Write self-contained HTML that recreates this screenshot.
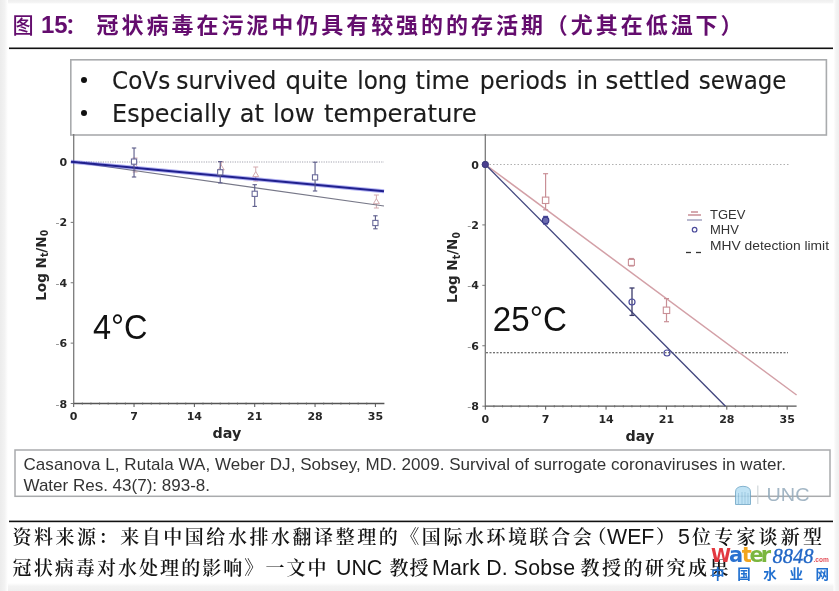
<!DOCTYPE html>
<html><head><meta charset="utf-8">
<style>
html,body{margin:0;padding:0;background:#f1f1f1;}
body{width:839px;height:591px;overflow:hidden;position:relative;}
svg{position:absolute;left:0;top:0;display:block;}
.cjk{font-family:"Noto Serif CJK SC","Noto Sans CJK SC",serif;}
.lat{font-family:"Liberation Sans",Arial,sans-serif;}
.tk{font-family:"DejaVu Sans","Liberation Sans",sans-serif;font-weight:bold;font-size:11px;fill:#262626;}
</style></head>
<body>
<svg width="839" height="591" viewBox="0 0 839 591">
<!-- page -->
<defs>
<linearGradient id="gl" x1="0" y1="0" x2="1" y2="0"><stop offset="0" stop-color="#ececec"/><stop offset="0.55" stop-color="#f2f2f2"/><stop offset="1" stop-color="#ffffff"/></linearGradient>
<linearGradient id="gr" x1="0" y1="0" x2="1" y2="0"><stop offset="0" stop-color="#ffffff"/><stop offset="0.45" stop-color="#f4f4f4"/><stop offset="1" stop-color="#efefef"/></linearGradient>
<linearGradient id="gt" x1="0" y1="0" x2="0" y2="1"><stop offset="0" stop-color="#efefef"/><stop offset="0.6" stop-color="#f4f4f4"/><stop offset="1" stop-color="#ffffff"/></linearGradient>
<linearGradient id="gb" x1="0" y1="0" x2="0" y2="1"><stop offset="0" stop-color="#ffffff"/><stop offset="0.4" stop-color="#f3f3f3"/><stop offset="1" stop-color="#efefef"/></linearGradient>
</defs>
<rect x="0" y="0" width="839" height="591" fill="#ffffff"/>
<rect x="0" y="0" width="839" height="4" fill="url(#gt)"/>
<rect x="0" y="583" width="839" height="8" fill="url(#gb)"/>
<rect x="0" y="0" width="8" height="591" fill="url(#gl)"/>
<rect x="833.5" y="0" width="5.5" height="591" fill="url(#gr)"/>

<!-- title -->
<g fill="#640d6e">
<text font-family="Noto Sans CJK SC" x="12.5" y="33" font-size="21.2" font-weight="500">图</text>
<text class="lat" x="41" y="32.5" font-size="24" font-weight="700">15</text>
<text font-family="Noto Sans CJK SC" x="65" y="33" font-size="21.2" font-weight="700">：</text>
<text x="96.6" y="33.3" font-family="Noto Sans CJK SC" font-size="22" font-weight="700" textLength="646" lengthAdjust="spacing">冠状病毒在污泥中仍具有较强的的存活期（尤其在低温下）</text>
</g>
<rect x="9" y="47.5" width="824" height="1.6" fill="#111"/>

<!-- bullet box -->
<rect x="70.8" y="59.8" width="755.6" height="75.2" fill="#fff" stroke="#a9abad" stroke-width="1.6"/>
<circle cx="84" cy="80" r="3" fill="#111"/>
<circle cx="84" cy="113" r="3" fill="#111"/>
<text x="112" y="89.3" font-family="DejaVu Sans, Liberation Sans, sans-serif" font-size="25.5" fill="#1c1c1c" stroke="#1c1c1c" stroke-width="0.15" textLength="58.2" lengthAdjust="spacingAndGlyphs">CoVs</text>
<text x="176.3" y="89.3" font-family="DejaVu Sans, Liberation Sans, sans-serif" font-size="25.5" fill="#1c1c1c" stroke="#1c1c1c" stroke-width="0.15" textLength="100.1" lengthAdjust="spacingAndGlyphs">survived</text>
<text x="285.5" y="89.3" font-family="DejaVu Sans, Liberation Sans, sans-serif" font-size="25.5" fill="#1c1c1c" stroke="#1c1c1c" stroke-width="0.15" textLength="62.5" lengthAdjust="spacingAndGlyphs">quite</text>
<text x="357.3" y="89.3" font-family="DejaVu Sans, Liberation Sans, sans-serif" font-size="25.5" fill="#1c1c1c" stroke="#1c1c1c" stroke-width="0.15" textLength="49.9" lengthAdjust="spacingAndGlyphs">long</text>
<text x="415.5" y="89.3" font-family="DejaVu Sans, Liberation Sans, sans-serif" font-size="25.5" fill="#1c1c1c" stroke="#1c1c1c" stroke-width="0.15" textLength="54.1" lengthAdjust="spacingAndGlyphs">time</text>
<text x="479.8" y="89.3" font-family="DejaVu Sans, Liberation Sans, sans-serif" font-size="25.5" fill="#1c1c1c" stroke="#1c1c1c" stroke-width="0.15" textLength="87.3" lengthAdjust="spacingAndGlyphs">periods</text>
<text x="576.4" y="89.3" font-family="DejaVu Sans, Liberation Sans, sans-serif" font-size="25.5" fill="#1c1c1c" stroke="#1c1c1c" stroke-width="0.15" textLength="21.6" lengthAdjust="spacingAndGlyphs">in</text>
<text x="605.6" y="89.3" font-family="DejaVu Sans, Liberation Sans, sans-serif" font-size="25.5" fill="#1c1c1c" stroke="#1c1c1c" stroke-width="0.15" textLength="84.8" lengthAdjust="spacingAndGlyphs">settled</text>
<text x="698.8" y="89.3" font-family="DejaVu Sans, Liberation Sans, sans-serif" font-size="25.5" fill="#1c1c1c" stroke="#1c1c1c" stroke-width="0.15" textLength="87.6" lengthAdjust="spacingAndGlyphs">sewage</text>
<text x="112.1" y="122.0" font-family="DejaVu Sans, Liberation Sans, sans-serif" font-size="25.5" fill="#1c1c1c" stroke="#1c1c1c" stroke-width="0.15" textLength="119.3" lengthAdjust="spacingAndGlyphs">Especially</text>
<text x="239.7" y="122.0" font-family="DejaVu Sans, Liberation Sans, sans-serif" font-size="25.5" fill="#1c1c1c" stroke="#1c1c1c" stroke-width="0.15" textLength="24.1" lengthAdjust="spacingAndGlyphs">at</text>
<text x="273" y="122.0" font-family="DejaVu Sans, Liberation Sans, sans-serif" font-size="25.5" fill="#1c1c1c" stroke="#1c1c1c" stroke-width="0.15" textLength="41.7" lengthAdjust="spacingAndGlyphs">low</text>
<text x="324" y="122.0" font-family="DejaVu Sans, Liberation Sans, sans-serif" font-size="25.5" fill="#1c1c1c" stroke="#1c1c1c" stroke-width="0.15" textLength="152.8" lengthAdjust="spacingAndGlyphs">temperature</text>

<!-- charts -->
<line x1="74" y1="162" x2="384" y2="162" stroke="#a4a4b0" stroke-width="1.1" stroke-dasharray="1.2 1.2"/>
<line x1="73.7" y1="134" x2="73.7" y2="404.02" stroke="#7a7a7a" stroke-width="1.3"/>
<line x1="73.7" y1="403.52" x2="384.4" y2="403.52" stroke="#555" stroke-width="1.3"/>
<line x1="73.7" y1="403.52" x2="73.7" y2="407.02" stroke="#555" stroke-width="1"/>
<line x1="82.32" y1="402.52" x2="82.32" y2="404.72" stroke="#666" stroke-width="0.8"/>
<line x1="90.94" y1="402.52" x2="90.94" y2="404.72" stroke="#666" stroke-width="0.8"/>
<line x1="99.56" y1="402.52" x2="99.56" y2="404.72" stroke="#666" stroke-width="0.8"/>
<line x1="108.18" y1="402.52" x2="108.18" y2="404.72" stroke="#666" stroke-width="0.8"/>
<line x1="116.8" y1="402.52" x2="116.8" y2="404.72" stroke="#666" stroke-width="0.8"/>
<line x1="125.42" y1="402.52" x2="125.42" y2="404.72" stroke="#666" stroke-width="0.8"/>
<line x1="134.04" y1="403.52" x2="134.04" y2="407.02" stroke="#555" stroke-width="1"/>
<line x1="142.66" y1="402.52" x2="142.66" y2="404.72" stroke="#666" stroke-width="0.8"/>
<line x1="151.28" y1="402.52" x2="151.28" y2="404.72" stroke="#666" stroke-width="0.8"/>
<line x1="159.9" y1="402.52" x2="159.9" y2="404.72" stroke="#666" stroke-width="0.8"/>
<line x1="168.52" y1="402.52" x2="168.52" y2="404.72" stroke="#666" stroke-width="0.8"/>
<line x1="177.14" y1="402.52" x2="177.14" y2="404.72" stroke="#666" stroke-width="0.8"/>
<line x1="185.76" y1="402.52" x2="185.76" y2="404.72" stroke="#666" stroke-width="0.8"/>
<line x1="194.38" y1="403.52" x2="194.38" y2="407.02" stroke="#555" stroke-width="1"/>
<line x1="203" y1="402.52" x2="203" y2="404.72" stroke="#666" stroke-width="0.8"/>
<line x1="211.62" y1="402.52" x2="211.62" y2="404.72" stroke="#666" stroke-width="0.8"/>
<line x1="220.24" y1="402.52" x2="220.24" y2="404.72" stroke="#666" stroke-width="0.8"/>
<line x1="228.86" y1="402.52" x2="228.86" y2="404.72" stroke="#666" stroke-width="0.8"/>
<line x1="237.48" y1="402.52" x2="237.48" y2="404.72" stroke="#666" stroke-width="0.8"/>
<line x1="246.1" y1="402.52" x2="246.1" y2="404.72" stroke="#666" stroke-width="0.8"/>
<line x1="254.72" y1="403.52" x2="254.72" y2="407.02" stroke="#555" stroke-width="1"/>
<line x1="263.34" y1="402.52" x2="263.34" y2="404.72" stroke="#666" stroke-width="0.8"/>
<line x1="271.96" y1="402.52" x2="271.96" y2="404.72" stroke="#666" stroke-width="0.8"/>
<line x1="280.58" y1="402.52" x2="280.58" y2="404.72" stroke="#666" stroke-width="0.8"/>
<line x1="289.2" y1="402.52" x2="289.2" y2="404.72" stroke="#666" stroke-width="0.8"/>
<line x1="297.82" y1="402.52" x2="297.82" y2="404.72" stroke="#666" stroke-width="0.8"/>
<line x1="306.44" y1="402.52" x2="306.44" y2="404.72" stroke="#666" stroke-width="0.8"/>
<line x1="315.06" y1="403.52" x2="315.06" y2="407.02" stroke="#555" stroke-width="1"/>
<line x1="323.68" y1="402.52" x2="323.68" y2="404.72" stroke="#666" stroke-width="0.8"/>
<line x1="332.3" y1="402.52" x2="332.3" y2="404.72" stroke="#666" stroke-width="0.8"/>
<line x1="340.92" y1="402.52" x2="340.92" y2="404.72" stroke="#666" stroke-width="0.8"/>
<line x1="349.54" y1="402.52" x2="349.54" y2="404.72" stroke="#666" stroke-width="0.8"/>
<line x1="358.16" y1="402.52" x2="358.16" y2="404.72" stroke="#666" stroke-width="0.8"/>
<line x1="366.78" y1="402.52" x2="366.78" y2="404.72" stroke="#666" stroke-width="0.8"/>
<line x1="375.4" y1="403.52" x2="375.4" y2="407.02" stroke="#555" stroke-width="1"/>
<line x1="70.7" y1="162" x2="73.7" y2="162" stroke="#777" stroke-width="1"/>
<line x1="70.7" y1="222.38" x2="73.7" y2="222.38" stroke="#777" stroke-width="1"/>
<line x1="70.7" y1="282.76" x2="73.7" y2="282.76" stroke="#777" stroke-width="1"/>
<line x1="70.7" y1="343.14" x2="73.7" y2="343.14" stroke="#777" stroke-width="1"/>
<line x1="70.7" y1="403.52" x2="73.7" y2="403.52" stroke="#777" stroke-width="1"/>
<text class="tk" x="67.2" y="166" text-anchor="end">0</text>
<text class="tk" x="67.2" y="226.38" text-anchor="end"><tspan fill="#8a8a8a" font-weight="normal">-</tspan>2</text>
<text class="tk" x="67.2" y="286.76" text-anchor="end"><tspan fill="#8a8a8a" font-weight="normal">-</tspan>4</text>
<text class="tk" x="67.2" y="347.14" text-anchor="end"><tspan fill="#8a8a8a" font-weight="normal">-</tspan>6</text>
<text class="tk" x="67.2" y="407.52" text-anchor="end"><tspan fill="#8a8a8a" font-weight="normal">-</tspan>8</text>
<text class="tk" x="73.7" y="420.2" text-anchor="middle">0</text>
<text class="tk" x="134.04" y="420.2" text-anchor="middle">7</text>
<text class="tk" x="194.38" y="420.2" text-anchor="middle">14</text>
<text class="tk" x="254.72" y="420.2" text-anchor="middle">21</text>
<text class="tk" x="315.06" y="420.2" text-anchor="middle">28</text>
<text class="tk" x="375.4" y="420.2" text-anchor="middle">35</text>
<text class="tk" x="227" y="438.2" text-anchor="middle" style="font-size:14.3px">day</text>
<text class="tk" transform="translate(40.5,265.3) rotate(-90)" x="0" y="5" text-anchor="middle" style="font-size:14.5px" textLength="71" lengthAdjust="spacingAndGlyphs">Log N<tspan font-size="10" dy="2.5">t</tspan><tspan dy="-2.5">/N</tspan><tspan font-size="10" dy="2.5">0</tspan></text>
<line x1="135.04" y1="158" x2="135.04" y2="172" stroke="#d3a9ae" stroke-width="1"/><line x1="132.54" y1="158" x2="137.54" y2="158" stroke="#d3a9ae" stroke-width="1"/><line x1="132.54" y1="172" x2="137.54" y2="172" stroke="#d3a9ae" stroke-width="1"/>
<path d="M135.04,163 l3,5 h-6 z" fill="#fff" stroke="#d3a9ae" stroke-width="1"/>
<line x1="221.24" y1="162" x2="221.24" y2="172" stroke="#d3a9ae" stroke-width="1"/><line x1="218.74" y1="162" x2="223.74" y2="162" stroke="#d3a9ae" stroke-width="1"/><line x1="218.74" y1="172" x2="223.74" y2="172" stroke="#d3a9ae" stroke-width="1"/>
<path d="M221.24,165 l3,5 h-6 z" fill="#fff" stroke="#d3a9ae" stroke-width="1"/>
<line x1="255.72" y1="167" x2="255.72" y2="181" stroke="#d3a9ae" stroke-width="1"/><line x1="253.22" y1="167" x2="258.22" y2="167" stroke="#d3a9ae" stroke-width="1"/><line x1="253.22" y1="181" x2="258.22" y2="181" stroke="#d3a9ae" stroke-width="1"/>
<path d="M255.72,171.6 l3,5 h-6 z" fill="#fff" stroke="#d3a9ae" stroke-width="1"/>
<line x1="376.4" y1="195" x2="376.4" y2="208" stroke="#d3a9ae" stroke-width="1"/><line x1="373.9" y1="195" x2="378.9" y2="195" stroke="#d3a9ae" stroke-width="1"/><line x1="373.9" y1="208" x2="378.9" y2="208" stroke="#d3a9ae" stroke-width="1"/>
<path d="M376.4,198.7 l3,5 h-6 z" fill="#fff" stroke="#d3a9ae" stroke-width="1"/>
<line x1="74" y1="162" x2="384" y2="206" stroke="#777888" stroke-width="1.2"/>
<line x1="71" y1="161.8" x2="384" y2="191.3" stroke="#3c3ce0" stroke-width="4" opacity="0.4"/>
<line x1="71" y1="161.8" x2="384" y2="191.3" stroke="#20208e" stroke-width="2.1"/>
<line x1="134.04" y1="148" x2="134.04" y2="177" stroke="#5a5a88" stroke-width="1.1"/><line x1="131.84" y1="148" x2="136.24" y2="148" stroke="#5a5a88" stroke-width="1.1"/><line x1="131.84" y1="177" x2="136.24" y2="177" stroke="#5a5a88" stroke-width="1.1"/>
<rect x="131.44" y="159" width="5.2" height="5.2" fill="#fff" stroke="#6a6a9a" stroke-width="1.1"/>
<line x1="220.24" y1="161.6" x2="220.24" y2="182.9" stroke="#5a5a88" stroke-width="1.1"/><line x1="218.04" y1="161.6" x2="222.44" y2="161.6" stroke="#5a5a88" stroke-width="1.1"/><line x1="218.04" y1="182.9" x2="222.44" y2="182.9" stroke="#5a5a88" stroke-width="1.1"/>
<rect x="217.64" y="169.7" width="5.2" height="5.2" fill="#fff" stroke="#6a6a9a" stroke-width="1.1"/>
<line x1="254.72" y1="184.7" x2="254.72" y2="206.4" stroke="#5a5a88" stroke-width="1.1"/><line x1="252.52" y1="184.7" x2="256.92" y2="184.7" stroke="#5a5a88" stroke-width="1.1"/><line x1="252.52" y1="206.4" x2="256.92" y2="206.4" stroke="#5a5a88" stroke-width="1.1"/>
<rect x="252.12" y="191.2" width="5.2" height="5.2" fill="#fff" stroke="#6a6a9a" stroke-width="1.1"/>
<line x1="315.06" y1="162.2" x2="315.06" y2="191" stroke="#5a5a88" stroke-width="1.1"/><line x1="312.86" y1="162.2" x2="317.26" y2="162.2" stroke="#5a5a88" stroke-width="1.1"/><line x1="312.86" y1="191" x2="317.26" y2="191" stroke="#5a5a88" stroke-width="1.1"/>
<rect x="312.46" y="174.8" width="5.2" height="5.2" fill="#fff" stroke="#6a6a9a" stroke-width="1.1"/>
<line x1="375.4" y1="215.8" x2="375.4" y2="228.8" stroke="#5a5a88" stroke-width="1.1"/><line x1="373.2" y1="215.8" x2="377.6" y2="215.8" stroke="#5a5a88" stroke-width="1.1"/><line x1="373.2" y1="228.8" x2="377.6" y2="228.8" stroke="#5a5a88" stroke-width="1.1"/>
<rect x="372.8" y="220.4" width="5.2" height="5.2" fill="#fff" stroke="#6a6a9a" stroke-width="1.1"/>
<text class="lat" x="93" y="339.3" font-size="34.5" fill="#111" textLength="54.5" lengthAdjust="spacingAndGlyphs">4°C</text>
<line x1="486" y1="164.5" x2="790" y2="164.5" stroke="#b0b0b0" stroke-width="1" stroke-dasharray="1.5 2"/>
<line x1="486" y1="352.8" x2="788" y2="352.8" stroke="#444" stroke-width="1.1" stroke-dasharray="2 1.5"/>
<line x1="485.3" y1="134" x2="485.3" y2="406.68" stroke="#7a7a7a" stroke-width="1.3"/>
<line x1="485.3" y1="406.18" x2="796.6" y2="406.18" stroke="#555" stroke-width="1.3"/>
<line x1="485.3" y1="406.18" x2="485.3" y2="409.68" stroke="#555" stroke-width="1"/>
<line x1="493.93" y1="405.18" x2="493.93" y2="407.38" stroke="#666" stroke-width="0.8"/>
<line x1="502.55" y1="405.18" x2="502.55" y2="407.38" stroke="#666" stroke-width="0.8"/>
<line x1="511.18" y1="405.18" x2="511.18" y2="407.38" stroke="#666" stroke-width="0.8"/>
<line x1="519.8" y1="405.18" x2="519.8" y2="407.38" stroke="#666" stroke-width="0.8"/>
<line x1="528.42" y1="405.18" x2="528.42" y2="407.38" stroke="#666" stroke-width="0.8"/>
<line x1="537.05" y1="405.18" x2="537.05" y2="407.38" stroke="#666" stroke-width="0.8"/>
<line x1="545.67" y1="406.18" x2="545.67" y2="409.68" stroke="#555" stroke-width="1"/>
<line x1="554.3" y1="405.18" x2="554.3" y2="407.38" stroke="#666" stroke-width="0.8"/>
<line x1="562.92" y1="405.18" x2="562.92" y2="407.38" stroke="#666" stroke-width="0.8"/>
<line x1="571.55" y1="405.18" x2="571.55" y2="407.38" stroke="#666" stroke-width="0.8"/>
<line x1="580.17" y1="405.18" x2="580.17" y2="407.38" stroke="#666" stroke-width="0.8"/>
<line x1="588.8" y1="405.18" x2="588.8" y2="407.38" stroke="#666" stroke-width="0.8"/>
<line x1="597.42" y1="405.18" x2="597.42" y2="407.38" stroke="#666" stroke-width="0.8"/>
<line x1="606.05" y1="406.18" x2="606.05" y2="409.68" stroke="#555" stroke-width="1"/>
<line x1="614.67" y1="405.18" x2="614.67" y2="407.38" stroke="#666" stroke-width="0.8"/>
<line x1="623.3" y1="405.18" x2="623.3" y2="407.38" stroke="#666" stroke-width="0.8"/>
<line x1="631.92" y1="405.18" x2="631.92" y2="407.38" stroke="#666" stroke-width="0.8"/>
<line x1="640.55" y1="405.18" x2="640.55" y2="407.38" stroke="#666" stroke-width="0.8"/>
<line x1="649.17" y1="405.18" x2="649.17" y2="407.38" stroke="#666" stroke-width="0.8"/>
<line x1="657.8" y1="405.18" x2="657.8" y2="407.38" stroke="#666" stroke-width="0.8"/>
<line x1="666.42" y1="406.18" x2="666.42" y2="409.68" stroke="#555" stroke-width="1"/>
<line x1="675.05" y1="405.18" x2="675.05" y2="407.38" stroke="#666" stroke-width="0.8"/>
<line x1="683.67" y1="405.18" x2="683.67" y2="407.38" stroke="#666" stroke-width="0.8"/>
<line x1="692.3" y1="405.18" x2="692.3" y2="407.38" stroke="#666" stroke-width="0.8"/>
<line x1="700.92" y1="405.18" x2="700.92" y2="407.38" stroke="#666" stroke-width="0.8"/>
<line x1="709.55" y1="405.18" x2="709.55" y2="407.38" stroke="#666" stroke-width="0.8"/>
<line x1="718.17" y1="405.18" x2="718.17" y2="407.38" stroke="#666" stroke-width="0.8"/>
<line x1="726.8" y1="406.18" x2="726.8" y2="409.68" stroke="#555" stroke-width="1"/>
<line x1="735.42" y1="405.18" x2="735.42" y2="407.38" stroke="#666" stroke-width="0.8"/>
<line x1="744.05" y1="405.18" x2="744.05" y2="407.38" stroke="#666" stroke-width="0.8"/>
<line x1="752.67" y1="405.18" x2="752.67" y2="407.38" stroke="#666" stroke-width="0.8"/>
<line x1="761.3" y1="405.18" x2="761.3" y2="407.38" stroke="#666" stroke-width="0.8"/>
<line x1="769.92" y1="405.18" x2="769.92" y2="407.38" stroke="#666" stroke-width="0.8"/>
<line x1="778.55" y1="405.18" x2="778.55" y2="407.38" stroke="#666" stroke-width="0.8"/>
<line x1="787.17" y1="406.18" x2="787.17" y2="409.68" stroke="#555" stroke-width="1"/>
<line x1="482.3" y1="164.5" x2="485.3" y2="164.5" stroke="#777" stroke-width="1"/>
<line x1="482.3" y1="224.92" x2="485.3" y2="224.92" stroke="#777" stroke-width="1"/>
<line x1="482.3" y1="285.34" x2="485.3" y2="285.34" stroke="#777" stroke-width="1"/>
<line x1="482.3" y1="345.76" x2="485.3" y2="345.76" stroke="#777" stroke-width="1"/>
<line x1="482.3" y1="406.18" x2="485.3" y2="406.18" stroke="#777" stroke-width="1"/>
<text class="tk" x="478.8" y="168.5" text-anchor="end">0</text>
<text class="tk" x="478.8" y="228.92" text-anchor="end"><tspan fill="#8a8a8a" font-weight="normal">-</tspan>2</text>
<text class="tk" x="478.8" y="289.34" text-anchor="end"><tspan fill="#8a8a8a" font-weight="normal">-</tspan>4</text>
<text class="tk" x="478.8" y="349.76" text-anchor="end"><tspan fill="#8a8a8a" font-weight="normal">-</tspan>6</text>
<text class="tk" x="478.8" y="410.18" text-anchor="end"><tspan fill="#8a8a8a" font-weight="normal">-</tspan>8</text>
<text class="tk" x="485.3" y="422.6" text-anchor="middle">0</text>
<text class="tk" x="545.67" y="422.6" text-anchor="middle">7</text>
<text class="tk" x="606.05" y="422.6" text-anchor="middle">14</text>
<text class="tk" x="666.42" y="422.6" text-anchor="middle">21</text>
<text class="tk" x="726.8" y="422.6" text-anchor="middle">28</text>
<text class="tk" x="787.17" y="422.6" text-anchor="middle">35</text>
<text class="tk" x="640" y="440.8" text-anchor="middle" style="font-size:14.3px">day</text>
<text class="tk" transform="translate(452.1,267.5) rotate(-90)" x="0" y="5" text-anchor="middle" style="font-size:14.5px" textLength="71" lengthAdjust="spacingAndGlyphs">Log N<tspan font-size="10" dy="2.5">t</tspan><tspan dy="-2.5">/N</tspan><tspan font-size="10" dy="2.5">0</tspan></text>
<line x1="485.3" y1="164.5" x2="796.6" y2="395" stroke="#d3a0a7" stroke-width="1.5"/>
<line x1="485.3" y1="164.5" x2="725.5" y2="406.2" stroke="#42467e" stroke-width="1.35"/>
<line x1="545.6" y1="173.7" x2="545.6" y2="209.8" stroke="#c98f96" stroke-width="1.2"/><line x1="543.1" y1="173.7" x2="548.1" y2="173.7" stroke="#c98f96" stroke-width="1.2"/><line x1="543.1" y1="209.8" x2="548.1" y2="209.8" stroke="#c98f96" stroke-width="1.2"/>
<rect x="542.4" y="197.1" width="6.4" height="6.4" fill="#fff" stroke="#c98f96" stroke-width="1.1"/>
<line x1="631.4" y1="258.5" x2="631.4" y2="266" stroke="#c98f96" stroke-width="1.2"/><line x1="628.9" y1="258.5" x2="633.9" y2="258.5" stroke="#c98f96" stroke-width="1.2"/><line x1="628.9" y1="266" x2="633.9" y2="266" stroke="#c98f96" stroke-width="1.2"/>
<rect x="628.4" y="259.4" width="6" height="6" fill="#fff" stroke="#c98f96" stroke-width="1.1"/>
<line x1="666.5" y1="298.6" x2="666.5" y2="321.7" stroke="#c98f96" stroke-width="1.2"/><line x1="664" y1="298.6" x2="669" y2="298.6" stroke="#c98f96" stroke-width="1.2"/><line x1="664" y1="321.7" x2="669" y2="321.7" stroke="#c98f96" stroke-width="1.2"/>
<rect x="663.3" y="307.1" width="6.4" height="6.4" fill="#fff" stroke="#c98f96" stroke-width="1.1"/>
<line x1="545.6" y1="216.5" x2="545.6" y2="224" stroke="#4b4b9b" stroke-width="1.4"/><line x1="543.1" y1="216.5" x2="548.1" y2="216.5" stroke="#4b4b9b" stroke-width="1.4"/><line x1="543.1" y1="224" x2="548.1" y2="224" stroke="#4b4b9b" stroke-width="1.4"/>
<circle cx="545.6" cy="220.4" r="3.2" fill="#6a6ab0" stroke="#3a3a8a" stroke-width="1.2"/>
<line x1="632" y1="288" x2="632" y2="315.4" stroke="#3a3a6a" stroke-width="1.3"/><line x1="629.5" y1="288" x2="634.5" y2="288" stroke="#3a3a6a" stroke-width="1.3"/><line x1="629.5" y1="315.4" x2="634.5" y2="315.4" stroke="#3a3a6a" stroke-width="1.3"/>
<circle cx="632" cy="302" r="3" fill="none" stroke="#4b4b9b" stroke-width="1.2"/>
<circle cx="667" cy="353" r="3" fill="none" stroke="#4b4b9b" stroke-width="1.2"/>
<circle cx="485.3" cy="164.5" r="3.2" fill="#4a3f8f" stroke="#3a3a7a" stroke-width="1"/>
<path d="M688,215 h13 M691,212 h7" stroke="#c98f96" stroke-width="1.5"/>
<line x1="687" y1="220" x2="702" y2="220" stroke="#8a8ab0" stroke-width="1.2"/>
<circle cx="694.6" cy="229.7" r="2.3" fill="none" stroke="#4b4b9b" stroke-width="1.2"/>
<line x1="686" y1="252.5" x2="691" y2="252.5" stroke="#333" stroke-width="1.3"/><line x1="696" y1="252.5" x2="701" y2="252.5" stroke="#333" stroke-width="1.3"/>
<g class="lat" font-size="13" fill="#333"><text x="710" y="218.8">TGEV</text><text x="710" y="233.7">MHV</text><text x="710" y="250.4" textLength="119" lengthAdjust="spacingAndGlyphs">MHV detection limit</text></g>
<text class="lat" x="492.8" y="331.2" font-size="35" fill="#111" textLength="74" lengthAdjust="spacingAndGlyphs">25°C</text>

<!-- citation box -->
<rect x="15" y="450" width="815" height="46.3" fill="#fff" stroke="#a9abad" stroke-width="1.5"/>
<text class="lat" x="23.5" y="470.3" font-size="17" fill="#333" textLength="762.5" lengthAdjust="spacing">Casanova L, Rutala WA, Weber DJ, Sobsey, MD. 2009. Survival of surrogate coronaviruses in water.</text>
<text class="lat" x="23.5" y="491.4" font-size="17" fill="#333" textLength="186.5" lengthAdjust="spacing">Water Res. 43(7): 893-8.</text>

<!-- UNC logo -->
<g opacity="0.85">
<path d="M735.5,504.5 V492 Q735.5,486.5 743,486.3 Q750.5,486.5 750.5,492 V504.5 Z" fill="#b5def3" stroke="#6fa6c6" stroke-width="1"/>
<path d="M738.5,504 V493 M742,504 V492 M745,504 V492 M748,504 V493" stroke="#8cbfdc" stroke-width="1"/>
<line x1="757.8" y1="485.6" x2="757.8" y2="504" stroke="#c8cfd4" stroke-width="1.2"/>
<text class="lat" x="766.5" y="500.5" font-size="18" fill="#93aabb" textLength="43" lengthAdjust="spacingAndGlyphs">UNC</text>
</g>

<!-- footer -->
<rect x="9" y="520.6" width="824" height="1.6" fill="#111"/>
<g fill="#141414" font-size="21.33">
<text class="cjk" font-weight="600" font-size="19" x="12.4" y="544.4" textLength="579.3" lengthAdjust="spacing">资料来源：来自中国给水排水翻译整理的《国际水环境联合会</text>
<text class="cjk" font-weight="600" font-size="19" x="587.5" y="544.4">（</text>
<text class="lat" x="607" y="543.8">WEF</text>
<text class="cjk" font-weight="600" font-size="19" x="656" y="544.4">）</text>
<text class="lat" x="678" y="543.8">5</text>
<text class="cjk" font-weight="600" font-size="19" x="692" y="544.4" textLength="130" lengthAdjust="spacing">位专家谈新型</text>
<text class="cjk" font-weight="600" font-size="19" x="12.6" y="575.3" textLength="314" lengthAdjust="spacing">冠状病毒对水处理的影响》一文中</text>
<text class="lat" x="336" y="574.8">UNC</text>
<text class="cjk" font-weight="600" font-size="19" x="389.5" y="575.3" textLength="39" lengthAdjust="spacing">教授</text>
<text class="lat" x="432" y="574.8" textLength="143" lengthAdjust="spacing">Mark D. Sobse</text>
<text class="cjk" font-weight="600" font-size="19" x="580.5" y="575.3" textLength="148" lengthAdjust="spacing">教授的研究成果</text>
</g>

<!-- watermark -->
<g font-family="DejaVu Sans, Liberation Sans, sans-serif" font-weight="bold">
<text x="711" y="562" font-size="20.3" fill="#e2383f" textLength="20" lengthAdjust="spacingAndGlyphs">W</text>
<text x="729" y="561.6" font-size="21" fill="#2a72d0">a</text>
<text x="741.8" y="561.6" font-size="21" fill="#f2a51f">t</text>
<text x="749.5" y="561.6" font-size="21" fill="#7bb63e">e</text>
<text x="760.8" y="561.6" font-size="21" fill="#7bb63e">r</text>
</g>
<text x="772.5" y="563" font-family="Liberation Serif, serif" font-style="italic" font-size="20.5" fill="#2166c6" stroke="#2166c6" stroke-width="0.3">8848</text>
<text x="813.5" y="561.6" font-family="Liberation Sans, sans-serif" font-weight="bold" font-size="8" fill="#e4505a" textLength="15.3" lengthAdjust="spacingAndGlyphs">.com</text>
<text x="711" y="579" font-family="Noto Sans CJK SC, sans-serif" font-weight="bold" font-size="13.5" fill="#2170d0" textLength="118" lengthAdjust="spacing">中国水业网</text>
</svg>
</body></html>
